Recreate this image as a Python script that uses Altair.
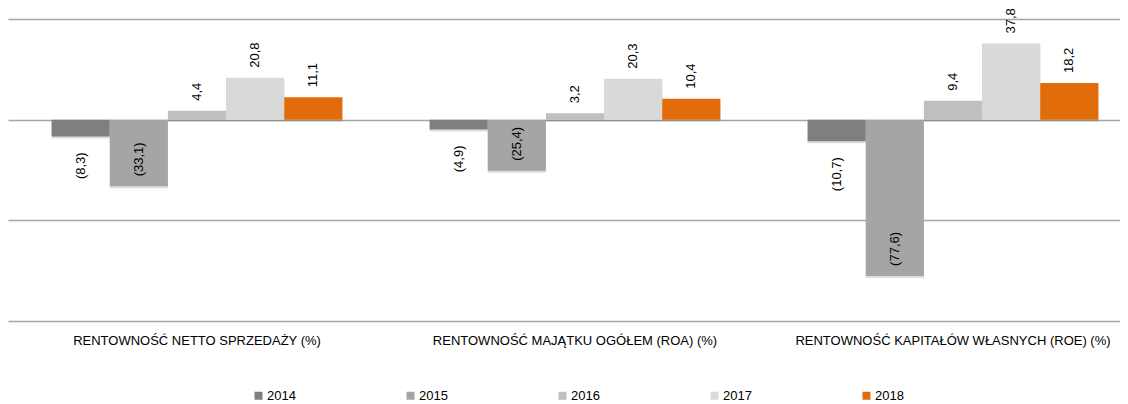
import altair as alt
import pandas as pd

categories = [
    "RENTOWNOŚĆ NETTO SPRZEDAŻY (%)",
    "RENTOWNOŚĆ MAJĄTKU OGÓŁEM (ROA) (%)",
    "RENTOWNOŚĆ KAPITAŁÓW WŁASNYCH (ROE) (%)",
]
years = ["2014", "2015", "2016", "2017", "2018"]
v2014 = [-8.3, -4.9, -10.7]
v2015 = [-33.1, -25.4, -77.6]
v2016 = [4.4, 3.2, 9.4]
v2017 = [20.8, 20.3, 37.8]
v2018 = [11.1, 10.4, 18.2]
colors = ["#7f7f7f", "#a5a5a5", "#bfbfbf", "#d9d9d9", "#e36c0a"]
grid_values = [-100, -50, 0, 50]

rows = []
for yr, vals in zip(years, [v2014, v2015, v2016, v2017, v2018]):
    for c, v in zip(categories, vals):
        rows.append({"kategoria": c, "rok": yr, "wartosc": v})
df = pd.DataFrame(rows)

FONT = "Liberation Sans"

x = alt.X(
    "kategoria:N",
    sort=categories,
    scale=alt.Scale(range=[0, 1134], paddingInner=0, paddingOuter=0),
    axis=alt.Axis(title=None, domain=False, ticks=False, labelAngle=0,
                  labelPadding=13, labelFontSize=13, labelFont=FONT,
                  labelColor="#000000", labelLimit=500),
)
xo = alt.XOffset("rok:N", sort=years,
                 scale=alt.Scale(paddingInner=0, paddingOuter=0.75))
y = alt.Y(
    "wartosc:Q",
    scale=alt.Scale(domain=[-100, 50], nice=False),
    axis=alt.Axis(title=None, values=grid_values, labels=False, ticks=False,
                  domain=False, gridColor="#a6a6a6", gridWidth=1.5),
)

base = alt.Chart(df).transform_calculate(
    label="(datum.wartosc < 0 ? '(' : '') + replace(format(abs(datum.wartosc), '.1f'), '.', ',') + (datum.wartosc < 0 ? ')' : '')"
)

shadow = base.mark_bar(color="#000000", opacity=0.13, xOffset=2, yOffset=2).encode(
    x=x, xOffset=xo, y=y
)

bars = base.mark_bar().encode(
    x=x, xOffset=xo, y=y,
    color=alt.Color(
        "rok:N",
        scale=alt.Scale(domain=years, range=colors),
        legend=alt.Legend(title=None, orient="none", direction="horizontal",
                          legendX=244, legendY=370, symbolType="square",
                          symbolSize=64, symbolStrokeWidth=0, labelFontSize=13,
                          labelFont=FONT, labelColor="#000000",
                          columnPadding=108, labelOffset=2, columns=5),
    ),
)

txt_kw = dict(angle=270, baseline="middle", fontSize=13, font=FONT, color="#000000")

pos_text = base.transform_filter("datum.wartosc >= 0").mark_text(
    align="left", dx=10, **txt_kw
).encode(x=x, xOffset=xo, y=y, text="label:N")

neg_out = base.transform_filter("datum.wartosc < 0 && datum.rok != '2015'").mark_text(
    align="right", dx=-16, **txt_kw
).encode(x=x, xOffset=xo, y=y, text="label:N")

neg_in = base.transform_filter("datum.wartosc < 0 && datum.rok == '2015'").mark_text(
    align="left", dx=10, **txt_kw
).encode(x=x, xOffset=xo, y=y, text="label:N")

chart = alt.layer(shadow, bars, pos_text, neg_out, neg_in).properties(
    width=1112, height=302,
    padding={"left": 0, "top": 11, "right": 0, "bottom": 83},
    autosize="none",
).configure_view(stroke=None)

chart.save("out.html", embed_options={"renderer": "svg", "actions": False})
